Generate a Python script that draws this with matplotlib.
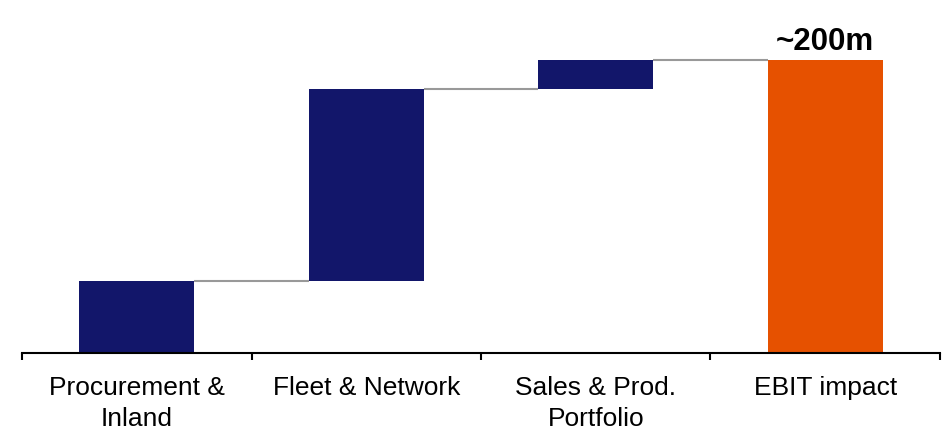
import matplotlib
matplotlib.use("Agg")
import matplotlib.pyplot as plt

categories = ["Procurement &\nInland", "Fleet & Network", "Sales & Prod.\nPortfolio", "EBIT impact"]
increments = [49, 131, 20]
total = 200
total_label = "~200m"

navy = "#12166A"
orange = "#E65100"
gray = "#999999"

plt.rcParams['font.family'] = ['Liberation Sans', 'DejaVu Sans']

fig = plt.figure(figsize=(9.43, 4.31), dpi=100)
W, H = 943, 431
base_px = 353.5
ax = fig.add_axes([22 / W, (H - base_px) / H, (940 - 22) / W, base_px / H])

scale = 292.5 / total  # px per unit
ax.set_ylim(0, base_px / scale)
ax.set_xlim(-0.5, len(categories) - 0.5)

width = 0.5
bottoms = []
cum = 0
for v in increments:
    bottoms.append(cum)
    cum += v
for i, (b, v) in enumerate(zip(bottoms, increments)):
    ax.bar(i, v, bottom=b, width=width, color=navy, zorder=2)
ax.bar(len(increments), total, width=width, color=orange, zorder=2)

# connectors
levels = [sum(increments[:i + 1]) for i in range(len(increments))]
for i, lv in enumerate(levels):
    ax.plot([i + width / 2, i + 1 - width / 2], [lv, lv], color=gray, lw=1.5, zorder=1,
            solid_capstyle='butt')

ax.text(len(increments), total + 3, total_label, ha='center', va='bottom',
        fontsize=22.5, fontweight='bold', color='black')

for s in ['top', 'left', 'right']:
    ax.spines[s].set_visible(False)
ax.spines['bottom'].set_linewidth(1.5)
ax.set_yticks([])
ax.set_xticks(range(len(categories)))
ax.set_xticklabels(categories, fontsize=19, linespacing=1.35)
ax.tick_params(axis='x', which='major', length=0, pad=16.5)
ax.set_xticks([i - 0.5 for i in range(len(categories) + 1)], minor=True)
ax.tick_params(axis='x', which='minor', length=5, width=1.5, direction='out')

fig.savefig("out.png", dpi=100)
